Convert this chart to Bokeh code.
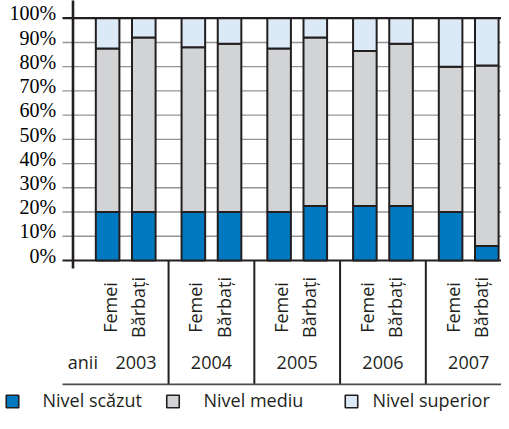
import math
from bokeh.plotting import figure
from bokeh.models import ColumnDataSource, Range1d
from bokeh.core.properties import value
from bokeh.embed import file_html
from bokeh.resources import INLINE

# ---------------- data ----------------
years = ["2003", "2004", "2005", "2006", "2007"]
sexes = ["Femei", "Bărbați"]
levels = ["Nivel scăzut", "Nivel mediu", "Nivel superior"]
# one value per bar: 2003 F, 2003 B, 2004 F, 2004 B, ...
scazut = [20, 20, 20, 20, 20, 22.5, 22.5, 22.5, 20, 6]
mediu = [67.5, 72, 68, 69.5, 67.5, 69.5, 64, 67, 60, 74.5]
superior = [12.5, 8, 12, 10.5, 12.5, 8, 13.5, 10.5, 20, 19.5]
y_ticks = [0, 10, 20, 30, 40, 50, 60, 70, 80, 90, 100]
y_tick_labels = ["0%", "10%", "20%", "30%", "40%", "50%", "60%", "70%", "80%", "90%", "100%"]
axis_word = "anii"

# ---------------- layout / style ----------------
W, H = 501, 413
GROUP_PX = 85.75          # pixels per year group
X0_PX = 125.2             # pixel of first group centre
Y0_PX = 260.0             # pixel of 0 %
PX_PER_PCT = 2.423


def gx(px):
    """horizontal layout position (pixels) -> data units"""
    return (px - X0_PX) / GROUP_PX


def gy(px):
    """vertical layout position (pixels) -> data units"""
    return (Y0_PX - px) / PX_PER_PCT


XMIN, XMAX = gx(0), gx(W)
YMIN, YMAX = gy(H), gy(0)
BAR_OFFSET = 0.211
BAR_WIDTH = 0.275
SEX_LABEL_DX = (-0.187, 0.142)
SEX_LABEL_Y = -19.4
YEAR_LABEL_Y = -41.9
FIRST_YEAR_SHIFT = 0.12
TABLE_BOTTOM = -51.1
AXIS_LOW = -3.3
TICK_LABEL_DY = 2.0
DARK = "#231f20"
GRID = "#939598"
COLORS = ["#0079c1", "#d1d3d4", "#dce9f6"]
SANS = "Open Sans"
SERIF = "Liberation Serif"

GRID_LEFT = gx(62)
AXIS_X = gx(72.5)
TICK_LABEL_RIGHT = gx(55.7)
ANII_X = gx(67.3)
LEGEND_Y = gy(401)
LEGEND_BOX_X = [gx(12), gx(172.5), gx(351)]
LEGEND_TEXT_X = [gx(42), gx(203), gx(372)]

n_groups = len(years)
xs = [g + s * BAR_OFFSET for g in range(n_groups) for s in (-1, 1)]
sex_per_bar = [sexes[k] for g in range(n_groups) for k in range(2)]
label_x = [g + SEX_LABEL_DX[k] for g in range(n_groups) for k in range(2)]

src = ColumnDataSource(dict(x=xs, scazut=scazut, mediu=mediu, superior=superior))

p = figure(width=W, height=H,
           x_range=Range1d(XMIN, XMAX), y_range=Range1d(YMIN, YMAX),
           output_backend="svg", toolbar_location=None,
           x_axis_location=None, y_axis_location=None,
           min_border=0, outline_line_color=None)
p.grid.visible = False

# y tick labels (serif)
p.text(x=[TICK_LABEL_RIGHT] * len(y_ticks), y=[t + TICK_LABEL_DY for t in y_ticks],
       text=y_tick_labels, text_align="right", text_baseline="middle",
       text_font=value(SERIF), text_font_size="20px")

# gridlines (extend to the left of the axis like tick marks)
grid_src = ColumnDataSource(dict(
    y=y_ticks,
    c=[DARK if t in (y_ticks[0], y_ticks[-1]) else GRID for t in y_ticks],
    w=[2.2 if t in (y_ticks[0], y_ticks[-1]) else 1.4 for t in y_ticks],
))
p.segment(x0=GRID_LEFT, x1=XMAX, y0="y", y1="y", line_color="c", line_width="w", source=grid_src)

# stacked bars
rends = p.vbar_stack(["scazut", "mediu", "superior"], x="x", width=BAR_WIDTH, source=src,
                     fill_color=COLORS, line_color=DARK, line_width=2)

# y axis line
p.segment(x0=AXIS_X, x1=AXIS_X, y0=AXIS_LOW, y1=YMAX + 1, line_color=DARK, line_width=2.6)

# category table below the axis
seps = [g + 0.5 for g in range(n_groups - 1)]
p.segment(x0=seps, x1=seps, y0=0, y1=TABLE_BOTTOM, line_color=DARK, line_width=2)
p.segment(x0=GRID_LEFT, x1=XMAX, y0=TABLE_BOTTOM, y1=TABLE_BOTTOM, line_color="#4d4d4f", line_width=1.8)

p.text(x=label_x, y=[SEX_LABEL_Y] * len(label_x), text=sex_per_bar, angle=math.pi / 2,
       text_align="center", text_baseline="middle", text_font=value(SANS),
       text_font_size="18px", text_color=DARK)

year_x = [g + (FIRST_YEAR_SHIFT if g == 0 else 0) for g in range(n_groups)]
p.text(x=year_x, y=[YEAR_LABEL_Y] * n_groups, text=years, text_align="center",
       text_baseline="middle", text_font=value(SANS), text_font_size="18px", text_color=DARK)
p.text(x=[ANII_X], y=[YEAR_LABEL_Y], text=[axis_word], text_align="left",
       text_baseline="middle", text_font=value(SANS), text_font_size="18px", text_color=DARK)

# legend
p.rect(x=LEGEND_BOX_X, y=[LEGEND_Y] * 3, width=12.5, height=12.5,
       width_units="screen", height_units="screen",
       fill_color=COLORS, line_color=DARK, line_width=1.6)
p.text(x=LEGEND_TEXT_X, y=[LEGEND_Y + 0.6] * 3, text=levels, text_align="left",
       text_baseline="middle", text_font=value(SANS), text_font_size="18px", text_color=DARK)

open("out.html", "w").write(file_html(p, INLINE))
